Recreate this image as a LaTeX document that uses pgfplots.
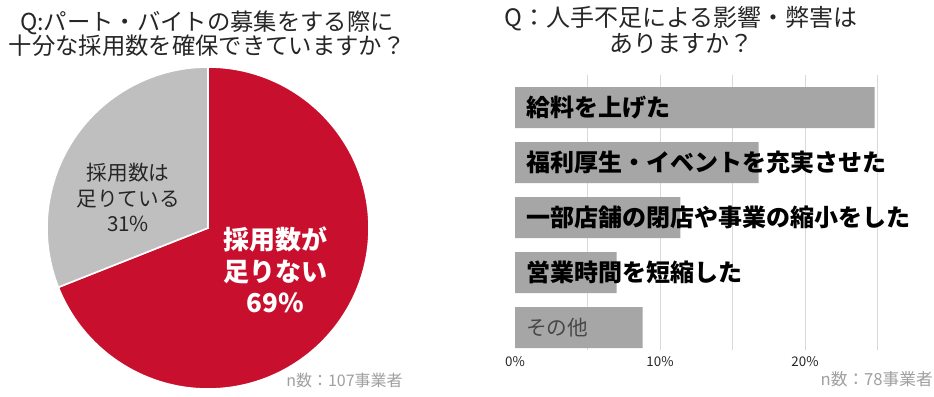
\documentclass[border=0pt]{standalone}
\usepackage{fontspec}
\setmainfont{Noto Sans CJK JP}
\usepackage{pgfplots}
\usepackage{pgfplotstable}
\pgfplotsset{compat=1.18}
\definecolor{piered}{HTML}{C8102E}
\definecolor{piegray}{HTML}{BFBFBF}
\definecolor{bargray}{HTML}{A6A6A6}
\definecolor{gridgray}{HTML}{D9D9D9}
\definecolor{txt}{HTML}{262626}
\definecolor{ngray}{HTML}{A0A0A0}

\pgfplotstableread{
label value
enough 31
short 69
}\pietable

\pgfplotstableread{
y value
1 24.8
2 16.8
3 11.4
4 7.0
5 8.8
}\bartable

\pgfplotstablegetelem{1}{value}\of\pietable
\let\vShort\pgfplotsretval
\pgfmathsetmacro\angRed{90-3.6*\vShort}

\begin{document}
\begin{tikzpicture}[x=0.75pt,y=0.75pt]
\fill[white] (0,0) rectangle (934,396);
\path[use as bounding box] (0,0) rectangle (934,396);
\coordinate (pieC) at (208,168);
\coordinate (barSW) at (505,46.5);

% ---- Pie ----
\begin{axis}[at={(pieC)}, anchor=center, scale only axis,
  width=241.5pt, height=241.5pt, xmin=-1, xmax=1, ymin=-1, ymax=1,
  hide axis, clip=false]
\fill[piered, draw=white, line width=1.2pt] (axis cs:0,0) -- (axis cs:0,1)
  arc[start angle=90, end angle=\angRed, radius=120.75pt] -- cycle;
\fill[piegray, draw=white, line width=1.2pt] (axis cs:0,0) -- (axis cs:0,1)
  arc[start angle=90, end angle={\angRed+360}, radius=120.75pt] -- cycle;
\end{axis}

\node[align=center, font=\fontsize{17.5}{18}\selectfont, text=txt] at (207,362)
  {Q:パート・バイトの募集をする際に\\十分な採用数を確保できていますか？};
\node[align=center, font=\fontsize{15.5}{19}\selectfont, text=txt] at (128,198.5)
  {採用数は\\足りている\\31\%};
\node[align=center, font=\bfseries\fontsize{19.5}{23.5}\selectfont, text=white] at (275,126)
  {採用数が\\足りない\\69\%};
\node[anchor=east, inner sep=0, font=\fontsize{12}{14}\selectfont, text=ngray] at (403,16)
  {n数：107事業者};

% ---- Bars ----
\begin{axis}[at={(barSW)}, anchor=south west, scale only axis,
  width=281.55pt, height=206.25pt,
  xmin=-0.69, xmax=25.2, ymin=0.4, ymax=5.4, y dir=reverse,
  xbar, bar width=30.75pt,
  axis line style={draw=none}, ytick=\empty,
  xtick={5,10,15,20,25}, xticklabels={,10\%,,20\%,},
  extra x ticks={0}, extra x tick labels={0\%}, extra x tick style={grid=none},
  xmajorgrids, major grid style={draw=gridgray, line width=0.6pt},
  major tick length=0pt,
  tick label style={font=\fontsize{10}{12}\selectfont, text=txt, yshift=-2pt},
  /pgf/number format/assume math mode=true,
  clip=false]
\addplot[fill=bargray, draw=none] table[x=value, y=y] {\bartable};
\node[anchor=west, inner sep=0, font=\bfseries\fontsize{18}{20}\selectfont, text=black] at (axis cs:0.76,1) {給料を上げた};
\node[anchor=west, inner sep=0, font=\bfseries\fontsize{18}{20}\selectfont, text=black] at (axis cs:0.76,2) {福利厚生・イベントを充実させた};
\node[anchor=west, inner sep=0, font=\bfseries\fontsize{18}{20}\selectfont, text=black] at (axis cs:0.76,3) {一部店舗の閉店や事業の縮小をした};
\node[anchor=west, inner sep=0, font=\bfseries\fontsize{18}{20}\selectfont, text=black] at (axis cs:0.76,4) {営業時間を短縮した};
\node[anchor=west, inner sep=0, font=\fontsize{15.5}{18}\selectfont, text=txt!85] at (axis cs:0.76,5) {その他};
\end{axis}

\node[align=center, font=\fontsize{18}{19.5}\selectfont, text=txt] at (681,366)
  {Q：人手不足による影響・弊害は\\ありますか？};
\node[anchor=east, inner sep=0, font=\fontsize{12.5}{14}\selectfont, text=ngray] at (933,17)
  {n数：78事業者};
\end{tikzpicture}
\end{document}
